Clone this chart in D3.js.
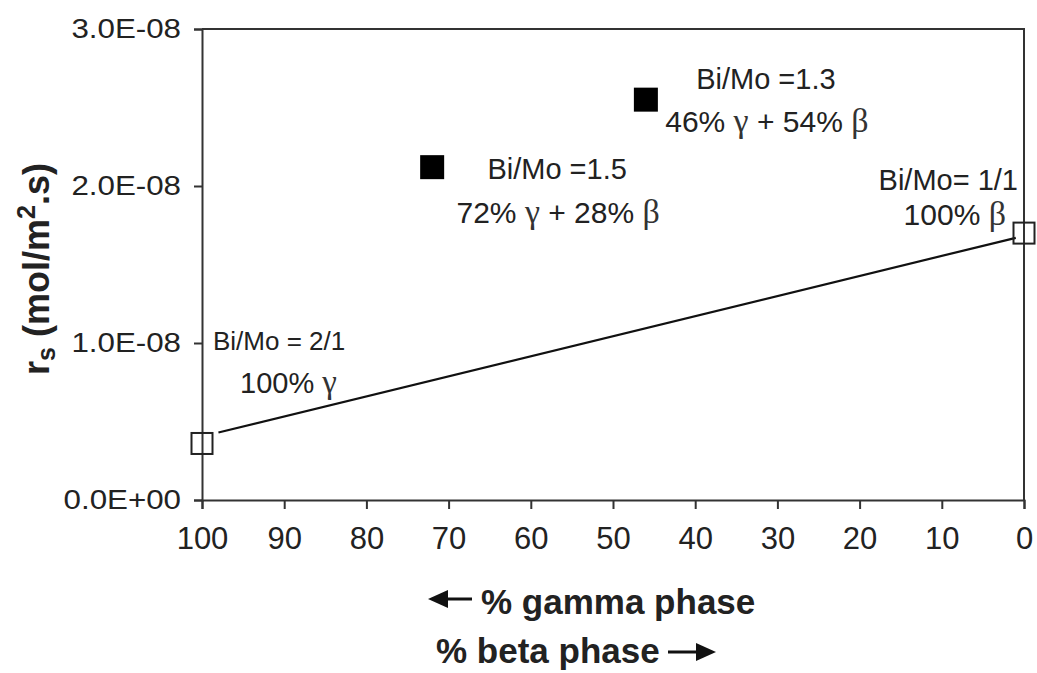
<!DOCTYPE html>
<html>
<head>
<meta charset="utf-8">
<script src="https://cdn.jsdelivr.net/npm/d3@7"></script>
<style>
  body { margin: 0; background: #fff; }
  text { font-family: "Liberation Sans", Arial, sans-serif; fill: #222; }
</style>
</head>
<body>
<svg width="1037" height="673"></svg>
<script>
// % gamma phase of each catalyst and its specific rate
const gammaPct = [100, 72, 46, 0];
const rates = [3.6e-9, 2.12e-8, 2.55e-8, 1.70e-8];
const singlePhase = [true, false, false, true];
const ratioLabels = ['Bi/Mo = 2/1', 'Bi/Mo =1.5', 'Bi/Mo =1.3', 'Bi/Mo= 1/1'];
const phaseLabels = [
  [['100% ', 'γ']],
  [['72% ', 'γ'], [' + 28% ', 'β']],
  [['46% ', 'γ'], [' + 54% ', 'β']],
  [['100% ', 'β']]
];
// linear fit drawn between the two single-phase samples
const trendX = [98, 1];
const trendY = [4.3e-9, 1.67e-8];
const xTicks = [100, 90, 80, 70, 60, 50, 40, 30, 20, 10, 0];
const yTicks = [0, 1e-8, 2e-8, 3e-8];

const svg = d3.select('svg');

const x = d3.scaleLinear().domain([100, 0]).range([202, 1024]);
const y = d3.scaleLinear().domain([0, 3e-8]).range([500, 29]);

const fmtExp = d => {
  const [m, e] = d.toExponential(1).toUpperCase().split('E');
  const sign = e[0] === '-' ? '-' : '+';
  return m + 'E' + sign + e.replace(/[+-]/, '').padStart(2, '0');
};

// frame (top and right)
svg.append('path')
  .attr('d', `M${x(100)},${y(3e-8)}H${x(0)}V${y(0)}`)
  .attr('fill', 'none').attr('stroke', '#333').attr('stroke-width', 2);

const yAxis = svg.append('g')
  .attr('transform', `translate(${x(100)},0)`)
  .call(d3.axisLeft(y).tickValues(yTicks).tickFormat(fmtExp).tickSize(8).tickPadding(10));
yAxis.selectAll('text').style('font-size', '27px').attr('transform', 'scale(1.16,1)').attr('x', -21 / 1.16);

const xAxis = svg.append('g')
  .attr('transform', `translate(0,${y(0)})`)
  .call(d3.axisBottom(x).tickValues(xTicks).tickSize(9).tickPadding(18));
xAxis.selectAll('text').style('font-size', '31px');

svg.selectAll('.domain, .tick line').attr('stroke', '#333').attr('stroke-width', 2);
svg.selectAll('.tick text').attr('fill', '#222');

// trend line
svg.append('path')
  .datum(d3.zip(trendX, trendY))
  .attr('d', d3.line().x(d => x(d[0])).y(d => y(d[1])))
  .attr('fill', 'none').attr('stroke', '#111').attr('stroke-width', 2.2);

// markers
const pts = gammaPct.map((g, i) => ({ g, r: rates[i], open: singlePhase[i] }));
svg.selectAll('rect.pt')
  .data(pts)
  .join('rect')
  .attr('class', 'pt')
  .attr('x', d => x(d.g) - (d.open ? 10.5 : 12))
  .attr('y', d => y(d.r) - (d.open ? 10.5 : 12))
  .attr('width', d => d.open ? 21 : 24)
  .attr('height', d => d.open ? 21 : 24)
  .attr('fill', d => d.open ? 'none' : '#000')
  .attr('stroke', d => d.open ? '#222' : 'none')
  .attr('stroke-width', 2);

// annotation layout: [anchor, dx1, dy1, dx2, dy2, size1, size2] relative to each point
const layout = [
  ['start', 11, -93, 38, -50, 26, 29],
  ['middle', 125, 12, 126, 56, 29, 30],
  ['middle', 120, -11, 121, 32, 29, 30],
  ['end', -6, -43, -18, -8, 29, 30]
];

pts.forEach((p, i) => {
  const [anchor, dx1, dy1, dx2, dy2, fs1, fs2] = layout[i];
  const px = x(p.g), py = y(p.r);
  svg.append('text')
    .attr('x', px + dx1).attr('y', py + dy1)
    .attr('text-anchor', anchor)
    .style('font-size', fs1 + 'px')
    .text(ratioLabels[i]);
  const t = svg.append('text')
    .attr('x', px + dx2).attr('y', py + dy2)
    .attr('text-anchor', anchor)
    .style('font-size', fs2 + 'px');
  phaseLabels[i].forEach(([num, greek]) => {
    t.append('tspan').text(num);
    t.append('tspan')
      .style('font-family', '"Liberation Serif", "Times New Roman", serif')
      .style('font-size', (fs2 + 4) + 'px')
      .attr('fill', '#333')
      .text(greek);
  });
});

// axis titles
const yTitle = svg.append('text')
  .attr('transform', 'translate(49,269) rotate(-90)')
  .attr('text-anchor', 'middle')
  .style('font-size', '36px').style('font-weight', 'bold');
yTitle.append('tspan').text('r');
yTitle.append('tspan').attr('dy', 6).style('font-size', '25px').text('s');
yTitle.append('tspan').attr('dy', -6).text(' (mol/m');
yTitle.append('tspan').attr('dy', -14).style('font-size', '25px').text('2');
yTitle.append('tspan').attr('dy', 14).text('.s)');

const arrowHead = (g, x0, y0, dir) => {
  g.append('path')
    .attr('d', `M${x0},${y0}l${-20 * dir},-9v18z`)
    .attr('fill', '#111');
};

const gTitle = svg.append('g');
gTitle.append('line').attr('x1', 440).attr('x2', 472).attr('y1', 599).attr('y2', 599)
  .attr('stroke', '#111').attr('stroke-width', 3);
arrowHead(gTitle, 428, 599, -1);
gTitle.append('text').attr('x', 481).attr('y', 614)
  .style('font-size', '35px').style('font-weight', 'bold')
  .text('% gamma phase');

gTitle.append('text').attr('x', 436).attr('y', 663)
  .style('font-size', '35px').style('font-weight', 'bold')
  .text('% beta phase');
gTitle.append('line').attr('x1', 668).attr('x2', 702).attr('y1', 652).attr('y2', 652)
  .attr('stroke', '#111').attr('stroke-width', 3);
arrowHead(gTitle, 716, 652, 1);
</script>
</body>
</html>
